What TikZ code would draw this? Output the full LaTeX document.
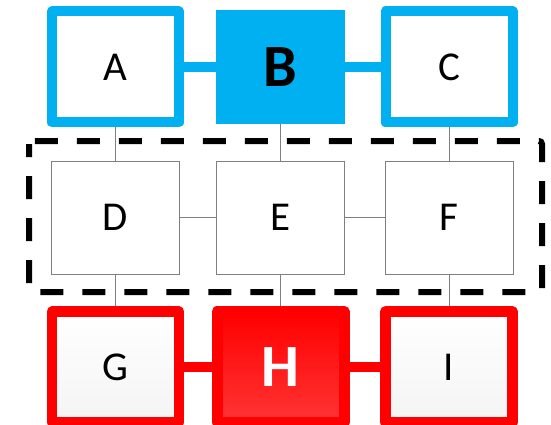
\documentclass[tikz,border=0pt]{standalone}
\usepackage{fontspec}
\setmainfont{Carlito}
\usetikzlibrary{positioning,backgrounds}
\definecolor{cBlue}{HTML}{00B0F0}
\definecolor{cRed}{HTML}{FF0000}
\definecolor{cRedLight}{HTML}{FF3535}
\definecolor{cPale}{HTML}{F4F4F4}
\definecolor{cGrey}{HTML}{7F7F7F}

\tikzset{
  letter/.style={font=\fontsize{41}{41}\selectfont},
  bigletter/.style={font=\fontsize{60}{60}\selectfont\bfseries},
  bluebox/.style={letter,draw=cBlue,line width=10pt,line join=round,fill=white,
    inner sep=0pt,minimum width=127pt,minimum height=111pt},
  bluefull/.style={bigletter,fill=cBlue,inner sep=0pt,minimum width=129pt,minimum height=114pt},
  greybox/.style={letter,draw=cGrey,line width=0.8pt,fill=white,
    inner sep=0pt,minimum width=128pt,minimum height=113pt},
  redbox/.style={letter,draw=cRed,line width=10.5pt,line join=round,
    top color=white,middle color=white,bottom color=cPale,
    inner sep=0pt,minimum width=127pt,minimum height=111pt},
  redfull/.style={bigletter,text=white,draw=cRed,line width=11pt,line join=round,
    top color=cRed,middle color=cRed,bottom color=cRedLight,
    inner sep=0pt,minimum width=127pt,minimum height=111pt},
  thinlink/.style={draw=cGrey,line width=0.8pt},
  bluelink/.style={draw=cBlue,line width=10pt},
  redlink/.style={draw=cRed,line width=10.5pt},
  frame/.style={draw=black,line width=6pt,rounded corners=3pt,
    dash pattern=on 23pt off 19pt,dash phase=10pt},
}

\begin{document}
\begin{tikzpicture}[x=1pt,y=-1pt]
  \useasboundingbox (0,0) rectangle (551,425);
  % top row
  \node[bluebox] (A) at (115.5,67) {A};
  \node[bluefull] (B) at (280.5,67) {B};
  \node[bluebox] (C) at (449,67) {C};
  % middle row
  \node[greybox] (D) at (115.5,217.5) {D};
  \node[greybox] (E) at (280.5,217.5) {E};
  \node[greybox] (F) at (449,217.5) {F};
  % bottom row
  \node[redbox] (G) at (115.5,367) {G};
  \node[redfull] (H) at (280.5,367) {H};
  \node[redbox] (I) at (449,367) {I};

  \begin{scope}[on background layer]
    \draw[frame] (29,141) rectangle (542,292);
    \draw[bluelink] (A) -- (B);
    \draw[bluelink] (B) -- (C);
    \draw[redlink] (G) -- (H);
    \draw[redlink] (H) -- (I);
    \draw[thinlink] (D) -- (E);
    \draw[thinlink] (E) -- (F);
    \draw[thinlink] (A) -- (D);
    \draw[thinlink] (B) -- (E);
    \draw[thinlink] (C) -- (F);
    \draw[thinlink] (D) -- (G);
    \draw[thinlink] (E) -- (H);
    \draw[thinlink] (F) -- (I);
  \end{scope}
\end{tikzpicture}
\end{document}
